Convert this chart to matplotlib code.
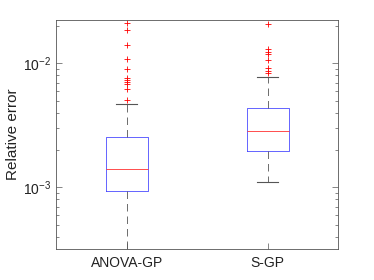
import matplotlib
matplotlib.use('Agg')
import matplotlib.pyplot as plt
from matplotlib.ticker import LogLocator, LogFormatterMathtext, NullFormatter

plt.rcParams['font.family'] = ['Liberation Sans', 'DejaVu Sans']
plt.rcParams['mathtext.fontset'] = 'custom'
plt.rcParams['mathtext.rm'] = 'Liberation Sans'

# Box statistics
labels = ['ANOVA-GP', 'S-GP']
medians = [1.406e-3, 2.83e-3]
q1 = [9.29e-4, 1.96e-3]
q3 = [2.55e-3, 4.39e-3]
whisker_low = [2.5e-4, 1.104e-3]
whisker_high = [4.67e-3, 7.80e-3]
outliers_anova = [0.02113, 0.01845, 0.01396, 0.01084, 0.00905, 0.00765,
                  0.00733, 0.00707, 0.00681, 0.00621, 0.00508]
outliers_sgp = [0.02085, 0.01297, 0.01240, 0.01182, 0.01063, 0.00911,
                0.00867, 0.00831]
fliers = [outliers_anova, outliers_sgp]

stats = []
for i in range(len(labels)):
    stats.append({'label': labels[i], 'med': medians[i], 'q1': q1[i], 'q3': q3[i],
                  'whislo': whisker_low[i], 'whishi': whisker_high[i],
                  'fliers': fliers[i]})

fig = plt.figure(figsize=(3.74, 2.8), dpi=100)
ax = fig.add_axes([0.1505, 0.1107, 0.754, 0.8168])

ax.bxp(stats, positions=[1, 2], widths=0.3, capwidths=0.15,
       boxprops=dict(color='#4a4aff', lw=0.6),
       medianprops=dict(color='#ff3030', lw=0.6),
       whiskerprops=dict(color='#555555', lw=0.6, ls=(0, (9, 6))),
       capprops=dict(color='#555555', lw=0.8),
       flierprops=dict(marker='+', markeredgecolor='red', markersize=4.5,
                       markeredgewidth=0.6, linestyle='none'))

ax.set_yscale('log')
ax.set_ylim(3.18e-4, 0.02223)
ax.set_xlim(0.5, 2.5)
ax.yaxis.set_major_locator(LogLocator(base=10))
ax.yaxis.set_major_formatter(LogFormatterMathtext())
ax.yaxis.set_minor_locator(LogLocator(base=10, subs=range(2, 10)))
ax.yaxis.set_minor_formatter(NullFormatter())

for s in ax.spines.values():
    s.set_color('#555555')
    s.set_linewidth(0.6)

ax.tick_params(axis='both', which='both', direction='in', colors='#555555',
               labelcolor='#222222', labelsize=10, width=0.5)
ax.tick_params(axis='y', which='major', length=4, right=True)
ax.tick_params(axis='y', which='minor', length=2, right=True)
ax.tick_params(axis='x', length=4, top=False, pad=5)
ax.set_ylabel('Relative error', fontsize=11, color='#222222', labelpad=2)

fig.savefig('out.png', dpi=100)
